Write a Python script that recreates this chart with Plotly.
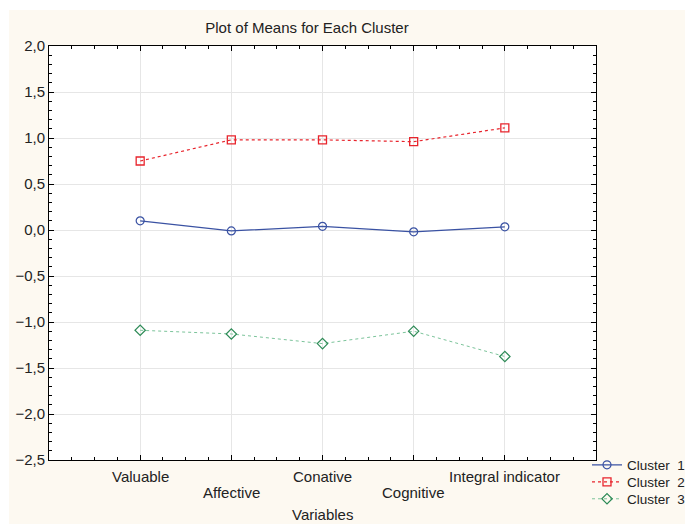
import plotly.graph_objects as go

variables = ["Valuable", "Affective", "Conative", "Cognitive", "Integral indicator"]
tick_rows = [0, 1, 0, 1, 0]  # 0 = upper row, 1 = lower row (staggered labels)
cluster1 = [0.10, -0.01, 0.04, -0.02, 0.035]
cluster2 = [0.75, 0.98, 0.98, 0.96, 1.11]
cluster3 = [-1.09, -1.13, -1.235, -1.10, -1.375]
series_names = ["Cluster  1", "Cluster  2", "Cluster  3"]

FONT = "Arial, Liberation Sans, sans-serif"
TXT = "#222222"
xpos = list(range(len(variables)))

# page body has an 8px margin; figure is sized so the visible window matches
OFF = 8
W, H = 693 - OFF, 524 - OFF
PL, PT, PR, PB = 49, 46, 596, 460  # plot box in window pixels
PW, PH = PR - PL, PB - PT

fig = go.Figure()
fig.add_trace(go.Scatter(x=xpos, y=cluster1, name=series_names[0], mode="lines+markers", legend="legend",
                         line=dict(color="#3a52a3", width=1.2, dash="solid"),
                         marker=dict(symbol="circle-open", size=8, color="#3a52a3", line=dict(width=1.2))))
fig.add_trace(go.Scatter(x=xpos, y=cluster2, name=series_names[1], mode="lines+markers", legend="legend2",
                         line=dict(color="#e8242c", width=1.2, dash="dot"),
                         marker=dict(symbol="square-open", size=8, color="#e8242c", line=dict(width=1.3))))
fig.add_trace(go.Scatter(x=xpos, y=cluster3, name=series_names[2], mode="lines+markers", legend="legend3",
                         line=dict(color="#7cc49b", width=1, dash="dot"),
                         marker=dict(symbol="diamond-open", size=8, color="#2e8b57", line=dict(width=1.2))))

# Staggered category labels
for i, (name, row) in enumerate(zip(variables, tick_rows)):
    fig.add_annotation(x=i, xref="x", y=-16 / PH - row * 17 / PH, yref="paper",
                       text=name, showarrow=False, yanchor="middle", xanchor="center",
                       font=dict(family=FONT, size=15, color=TXT))

fig.add_annotation(x=0.5, xref="paper", y=(PB - 515) / PH, yref="paper", text="Variables",
                   showarrow=False, yanchor="middle", font=dict(family=FONT, size=15, color=TXT))

# background: white strip top/left, cream elsewhere, white plot area
fig.add_shape(type="rect", xref="paper", yref="paper", layer="below",
              x0=(9 - PL) / PW, x1=(720 - PL) / PW, y0=(PB - 560) / PH, y1=(PB - 10) / PH,
              fillcolor="#fdf9f1", line=dict(width=0))
fig.add_shape(type="rect", xref="paper", yref="paper", layer="below",
              x0=0, x1=1, y0=0, y1=1, fillcolor="white", line=dict(width=0))

legend_common = dict(x=(587 - PL) / PW, xanchor="left", yanchor="middle",
                     bgcolor="rgba(0,0,0,0)", font=dict(family=FONT, size=13.5, color=TXT),
                     itemwidth=30)

fig.update_layout(
    width=W, height=H,
    margin=dict(l=PL - OFF, r=W - (PR - OFF), t=PT - OFF, b=H - (PB - OFF), autoexpand=False),
    paper_bgcolor="white", plot_bgcolor="rgba(0,0,0,0)",
    separators=",.",
    font=dict(family=FONT, size=15, color=TXT),
    title=dict(text="Plot of Means for Each Cluster", x=(307 - OFF) / W, xanchor="center",
               y=1 - (28 - OFF) / H, yanchor="middle", font=dict(family=FONT, size=15, color=TXT)),
    showlegend=True,
    legend=dict(y=(PB - 465) / PH, **legend_common),
    legend2=dict(y=(PB - 482) / PH, **legend_common),
    legend3=dict(y=(PB - 499) / PH, **legend_common),
)
fig.update_xaxes(range=[-1, 5], tickvals=xpos, ticktext=[""] * len(variables),
                 showline=True, linecolor="black", linewidth=1, mirror="ticks",
                 ticks="inside", ticklen=5, tickcolor="black",
                 showgrid=True, gridcolor="#e6e6e6", gridwidth=1, zeroline=False,
                 minor=dict(dtick=0.25, tick0=0, ticks="inside", ticklen=3, tickcolor="black", showgrid=False))
fig.update_yaxes(range=[-2.5, 2.0], dtick=0.5, tick0=0, tickformat=".1f",
                 showline=True, linecolor="black", linewidth=1, mirror="ticks",
                 ticks="inside", ticklen=5, tickcolor="black",
                 showgrid=True, gridcolor="#e6e6e6", gridwidth=1, zeroline=False,
                 tickfont=dict(family=FONT, size=15, color=TXT),
                 minor=dict(dtick=0.1, tick0=0, ticks="inside", ticklen=3, tickcolor="black", showgrid=False))

fig.write_html("out.html")
